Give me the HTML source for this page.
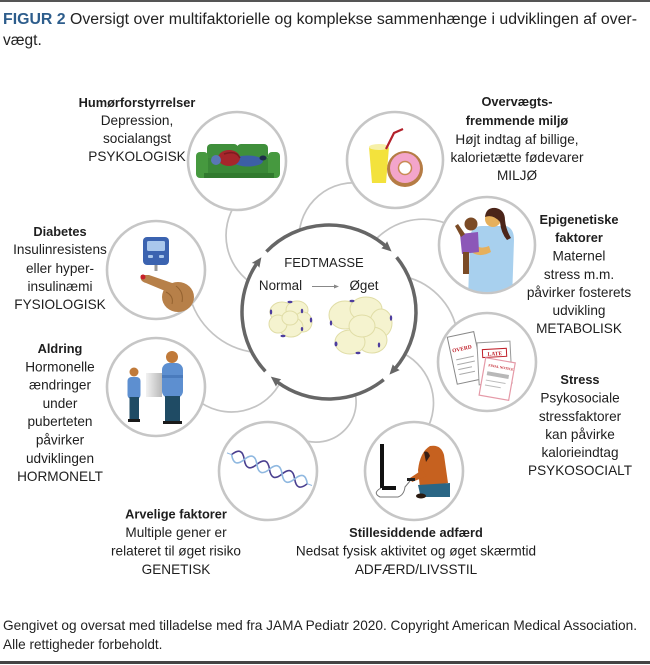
<!DOCTYPE html>
<html><head><meta charset="utf-8"><style>
html,body{margin:0;padding:0;background:#fff;}
svg{display:block;font-family:"Liberation Sans",Arial,Helvetica,sans-serif;}
.l{font-size:13.6px;fill:#1e1e1e;text-anchor:middle;}
.b{font-size:12.8px;font-weight:bold;fill:#1e1e1e;text-anchor:middle;}
</style></head><body>
<svg width="650" height="665" viewBox="0 0 650 665" xmlns="http://www.w3.org/2000/svg">
<defs>
<linearGradient id="gg" x1="0" y1="0" x2="1" y2="0"><stop offset="0" stop-color="#f2f2f2"/><stop offset="1" stop-color="#b8b8b8"/></linearGradient>
<pattern id="rung" width="3" height="20" patternUnits="userSpaceOnUse"><rect x="0" y="0" width="1.2" height="20" fill="#6a5fa8"/></pattern>
<clipPath id="cm"><circle cx="487" cy="245" r="47"/></clipPath>
<clipPath id="cs"><circle cx="414" cy="471" r="48"/></clipPath>
</defs>
<rect width="650" height="665" fill="#fff"/>
<rect x="0" y="0" width="650" height="2" fill="#555"/>
<rect x="0" y="661" width="650" height="3" fill="#444"/>

<text x="3" y="24" font-size="15.5" fill="#222" textLength="634" lengthAdjust="spacingAndGlyphs"><tspan font-weight="bold" fill="#2d5d8c">FIGUR 2</tspan> Oversigt over multifaktorielle og komplekse sammenhænge i udviklingen af over-</text>
<text x="3" y="45" font-size="15.5" fill="#222">vægt.</text>

<!-- connector arcs -->
<g fill="none" stroke="#c4c4c4" stroke-width="1.7">
<path d="M236.4,202.6 A57.4,57.4 0 0 0 254.7,285.2"/>
<path d="M363.5,183.6 A55,55 0 0 0 299,237.8"/>
<path d="M450.8,225.3 A65.6,65.6 0 0 0 369.4,247.2"/>
<path d="M188.9,292.5 A76.1,76.1 0 0 0 256.8,352.5"/>
<path d="M196.2,399.1 A55,55 0 0 0 281.4,380.2"/>
<path d="M352.3,385.1 A40,40 0 0 1 299.1,438.3"/>
<path d="M398.5,351.1 A56,56 0 0 1 426,431"/>
<path d="M399.1,275.6 A68.5,68.5 0 0 1 457.4,333.9"/>
</g>

<!-- satellite circles -->
<g fill="#fff" stroke="#c6c6c6" stroke-width="2.6">
<circle cx="237" cy="161" r="49"/>
<circle cx="395" cy="160" r="48"/>
<circle cx="156" cy="270" r="49"/>
<circle cx="156" cy="387" r="49"/>
<circle cx="487" cy="245" r="48"/>
<circle cx="487" cy="362" r="49"/>
<circle cx="268" cy="471" r="49"/>
<circle cx="414" cy="471" r="49"/>
</g>

<!-- couch -->
<g>
<rect x="207" y="144" width="31" height="17" rx="4" fill="#3f8f3b"/>
<rect x="237" y="144" width="31" height="17" rx="4" fill="#3f8f3b"/>
<rect x="203" y="158" width="71" height="20" fill="#3a8837"/>
<rect x="196" y="152" width="12" height="26" rx="4" fill="#46993f"/>
<rect x="268" y="152" width="12" height="26" rx="4" fill="#46993f"/>
<rect x="204" y="173" width="70" height="5" fill="#317a2e"/>
<ellipse cx="248" cy="161" rx="15" ry="5.5" fill="#3c5fa6"/>
<ellipse cx="229" cy="158" rx="11" ry="8" fill="#a6262b"/>
<circle cx="216" cy="160" r="5" fill="#5a77b5"/>
<ellipse cx="263" cy="158" rx="3.5" ry="2.5" fill="#1e2d4a"/>
<path d="M224,154 Q236,150 240,158" stroke="#7d1c20" stroke-width="1.5" fill="none"/>
</g>

<!-- drink & donut -->
<g>
<path d="M369,147 L389,147 L386,183 L372,183 Z" fill="#f3e23c"/>
<ellipse cx="379" cy="147" rx="10" ry="3" fill="#f6f0a8"/>
<polyline points="386,149 394,133 403,129" stroke="#b3212b" stroke-width="2.2" fill="none"/>
<circle cx="405" cy="169" r="18" fill="#b57c45"/>
<circle cx="405" cy="168" r="15" fill="#f3a5cb"/>
<circle cx="405" cy="168" r="6.5" fill="#fff" stroke="#c98a55" stroke-width="1.5"/>
</g>

<!-- diabetes -->
<g>
<rect x="143" y="237" width="26" height="28" rx="4" fill="#3b63b0"/>
<rect x="147" y="241" width="18" height="10" rx="1.5" fill="#a9c7ec"/>
<rect x="148" y="255" width="5" height="3" rx="1" fill="#a9c7ec"/>
<rect x="159" y="255" width="5" height="3" rx="1" fill="#a9c7ec"/>
<rect x="154.5" y="265" width="3" height="6" fill="#999"/>
<path d="M141,275 Q139,281 146,283 L170,293 L175,284 L149,275 Z" fill="#b78049"/>
<ellipse cx="178" cy="297" rx="16" ry="15" fill="#b78049"/>
<path d="M166,292 Q174,296 172,304 M176,286 Q184,292 182,302" stroke="#93612f" stroke-width="1" fill="none"/>
<circle cx="143" cy="277" r="2.5" fill="#c8202a"/>
</g>

<!-- aldring -->
<g>
<circle cx="134" cy="372" r="4.5" fill="#c07a3a"/>
<rect x="127.5" y="377" width="13" height="22" rx="4" fill="#5d8fd0"/>
<rect x="129.5" y="397" width="9.5" height="23" fill="#1f4b64"/>
<rect x="128" y="419" width="12" height="3" fill="#1a1a1a"/>
<rect x="146" y="373" width="16" height="24" fill="url(#gg)"/>
<circle cx="172" cy="357" r="6" fill="#c07a3a"/>
<rect x="162" y="363" width="21" height="35" rx="7" fill="#5d8fd0"/>
<rect x="162" y="375" width="21" height="3" fill="#4a7bbd"/>
<rect x="165" y="396" width="15" height="26" fill="#1f4b64"/>
<rect x="163" y="421" width="19" height="3" fill="#1a1a1a"/>
</g>

<!-- mother -->
<g clip-path="url(#cm)">
<path d="M470,236 Q472,226 482,226 L506,226 Q514,228 514,240 L512,300 L468,300 Z" fill="#a8d0ee"/>
<circle cx="493" cy="219" r="8" fill="#e6b05c"/>
<path d="M485,217 Q486,207 496,208 Q505,210 505,220 Q506,230 511,238 L507,240 Q501,233 500,222 Q493,214 485,217 Z" fill="#4b2519"/>
<path d="M469,250 Q478,259 491,252 L489,246 Q480,250 474,244 Z" fill="#e6b05c"/>
<path d="M460,234 L478,232 L479,252 L462,254 Z" fill="#8c57b8"/>
<circle cx="471" cy="224" r="6.5" fill="#7b4b26"/>
<path d="M461,237 L455,226 L458,224 L465,234 Z" fill="#7b4b26"/>
<rect x="463" y="252" width="6" height="22" fill="#7b4b26"/>
</g>

<!-- stress papers -->
<g font-family="Liberation Serif,serif" font-weight="bold">
<g transform="rotate(-12 465 358)">
<rect x="452" y="334" width="27" height="48" fill="#fff" stroke="#888" stroke-width="1"/>
<text x="454" y="350" font-size="5.5" fill="#c0202a">OVERD</text>
<path d="M456,358 H474 M456,363 H474 M456,368 H470 M456,373 H472" stroke="#aaa" stroke-width="1"/>
</g>
<g transform="rotate(-3 494 362)">
<rect x="478" y="342" width="33" height="42" fill="#fff" stroke="#999" stroke-width="1"/>
<rect x="483" y="349" width="24" height="8" fill="#fff" stroke="#c0202a" stroke-width="1"/>
<text x="488" y="355.5" font-size="5.5" fill="#c0202a">LATE</text>
</g>
<g transform="rotate(10 497 380)">
<rect x="482" y="360" width="30" height="38" fill="#fff" stroke="#e59aa8" stroke-width="1.2"/>
<text x="486" y="368" font-size="3.5" fill="#c0202a">FINAL NOTICE</text>
<rect x="486" y="373" width="22" height="4" fill="#b8b8b8"/>
<path d="M486,382 H506 M486,387 H502" stroke="#bbb" stroke-width="1"/>
</g>
</g>

<!-- DNA -->
<g transform="translate(269 469) rotate(21)">
<path d="M-40,0 Q-33.25,-12 -26.5,0 T-13,0 T0.5,0 T14,0 T27.5,0 T41,0 Q34.25,12 27.5,0 Q20.75,-12 14,0 Q7.25,12 0.5,0 Q-6.25,-12 -13,0 Q-19.75,12 -26.5,0 Q-33.25,-12 -40,0 Z" fill="url(#rung)" opacity="0.85"/>
<path d="M-40,0 Q-33.25,-12 -26.5,0 T-13,0 T0.5,0 T14,0 T27.5,0 T41,0" stroke="#4a3f8f" stroke-width="1.6" fill="none"/>
<path d="M-40,0 Q-33.25,12 -26.5,0 T-13,0 T0.5,0 T14,0 T27.5,0 T41,0" stroke="#8fb8e0" stroke-width="1.6" fill="none"/>
<path d="M-45,0 H-40 M41,0 H46" stroke="#8fb8e0" stroke-width="1"/>
</g>

<!-- sedentary -->
<g clip-path="url(#cs)">
<rect x="380" y="444" width="4" height="44" fill="#111"/>
<rect x="382" y="486" width="14" height="4" fill="#111"/>
<path d="M381,488 Q372,493 380,497 L398,497 Q404,495 405,487 L410,481" stroke="#777" fill="none" stroke-width="1"/>
<path d="M430,446 Q441,444 444,455 L448,483 L420,488 L418,470 Q420,452 430,446 Z" fill="#c6611f"/>
<path d="M424,452 Q428,450 430,456 L426,462 Z" fill="#3a1f14"/>
<path d="M422,470 L410,478 L412,482 L427,476 Z" fill="#c6611f"/>
<path d="M418,485 L450,483 L450,497 L425,497 L420,494 Z" fill="#2a6685"/>
<ellipse cx="421" cy="496" rx="5" ry="2.5" fill="#2a1a10"/>
<rect x="407" y="478" width="8" height="3" fill="#222"/>
</g>

<!-- center circle -->
<circle cx="329" cy="312" r="87" fill="#fff"/>
<g fill="none" stroke="#666" stroke-width="3.5">
<path d="M266.42,251.56 A87,87 0 0 1 385.50,245.85"/>
<path d="M396.61,257.25 A87,87 0 0 1 395.25,368.38"/>
<path d="M383.75,379.61 A87,87 0 0 1 277.25,381.94"/>
<path d="M265.37,371.33 A87,87 0 0 1 256.45,263.98"/>
</g>
<g fill="#666">
<polygon points="261.39,257.25 251.75,262.98 256.5,264 259.35,267.80"/>
<polygon points="391.58,251.56 381.36,248.26 384.5,245.5 387.08,241.30"/>
<polygon points="389.44,374.58 392.74,364.36 395.5,367.5 399.70,370.08"/>
<polygon points="270.79,376.65 275.99,386.58 278,382 281.21,379.24"/>
</g>

<text x="324" y="267" font-size="13" fill="#222" text-anchor="middle">FEDTMASSE</text>
<text x="280.5" y="290" font-size="13.4" fill="#222" text-anchor="middle">Normal</text>
<text x="364" y="290" font-size="13.4" fill="#222" text-anchor="middle">Øget</text>
<line x1="312" y1="286.5" x2="335" y2="286.5" stroke="#888" stroke-width="1"/>
<polygon points="339,286.5 334,284.5 334,288.5" fill="#888"/>

<!-- fat cells small -->
<g fill="#f5f3cf" stroke="#e0dda6" stroke-width="1">
<ellipse cx="282" cy="312" rx="12" ry="10"/>
<ellipse cx="297" cy="310" rx="11" ry="9"/>
<ellipse cx="303" cy="322" rx="9" ry="10"/>
<ellipse cx="291" cy="327" rx="12" ry="10"/>
<ellipse cx="278" cy="324" rx="9" ry="9"/>
<ellipse cx="290" cy="318" rx="8" ry="7"/>
</g>
<g fill="#f5f3cf" stroke="#e0dda6" stroke-width="1">
<ellipse cx="345" cy="315" rx="16" ry="14"/>
<ellipse cx="366" cy="309" rx="16" ry="12"/>
<ellipse cx="381" cy="323" rx="11" ry="14"/>
<ellipse cx="372" cy="340" rx="15" ry="13"/>
<ellipse cx="350" cy="342" rx="15" ry="12"/>
<ellipse cx="362" cy="326" rx="13" ry="11"/>
</g>
<g fill="#4d3d9e">
<ellipse cx="271" cy="312" rx="1.2" ry="2.5"/>
<ellipse cx="290" cy="302" rx="2.5" ry="1.2"/>
<ellipse cx="302" cy="311" rx="1.2" ry="2.3"/>
<ellipse cx="311" cy="320" rx="1.2" ry="2.5"/>
<ellipse cx="302" cy="329" rx="1.2" ry="2"/>
<ellipse cx="283" cy="336" rx="2.5" ry="1.2"/>
<ellipse cx="352" cy="301" rx="2.5" ry="1.2"/>
<ellipse cx="331" cy="323" rx="1.2" ry="2.5"/>
<ellipse cx="391" cy="318" rx="1.2" ry="2.8"/>
<ellipse cx="336" cy="344" rx="1.5" ry="2.5"/>
<ellipse cx="358" cy="353" rx="2.5" ry="1.2"/>
<ellipse cx="379" cy="345" rx="1.2" ry="2.5"/>
</g>

<!-- labels -->
<text class="b" x="137" y="107">Humørforstyrrelser</text>
<text class="l" x="137" y="125">Depression,</text>
<text class="l" x="137" y="143">socialangst</text>
<text class="l" x="137" y="161">PSYKOLOGISK</text>

<text class="b" x="517" y="106">Overvægts-</text>
<text class="b" x="517" y="125">fremmende miljø</text>
<text class="l" x="517" y="144">Højt indtag af billige,</text>
<text class="l" x="517" y="162">kalorietætte fødevarer</text>
<text class="l" x="517" y="180">MILJØ</text>

<text class="b" x="60" y="236">Diabetes</text>
<text class="l" x="60" y="254">Insulinresistens</text>
<text class="l" x="60" y="273">eller hyper-</text>
<text class="l" x="60" y="291">insulinæmi</text>
<text class="l" x="60" y="309">FYSIOLOGISK</text>

<text class="b" x="579" y="224">Epigenetiske</text>
<text class="b" x="579" y="242">faktorer</text>
<text class="l" x="579" y="260.5">Maternel</text>
<text class="l" x="579" y="279">stress m.m.</text>
<text class="l" x="579" y="297">påvirker fosterets</text>
<text class="l" x="579" y="315">udvikling</text>
<text class="l" x="579" y="333">METABOLISK</text>

<text class="b" x="60" y="353">Aldring</text>
<text class="l" x="60" y="371.3">Hormonelle</text>
<text class="l" x="60" y="389.6">ændringer</text>
<text class="l" x="60" y="407.9">under</text>
<text class="l" x="60" y="426.2">puberteten</text>
<text class="l" x="60" y="444.5">påvirker</text>
<text class="l" x="60" y="462.8">udviklingen</text>
<text class="l" x="60" y="481.1">HORMONELT</text>

<text class="b" x="580" y="384">Stress</text>
<text class="l" x="580" y="402.5">Psykosociale</text>
<text class="l" x="580" y="421">stressfaktorer</text>
<text class="l" x="580" y="439">kan påvirke</text>
<text class="l" x="580" y="457">kalorieindtag</text>
<text class="l" x="580" y="475">PSYKOSOCIALT</text>

<text class="b" x="176" y="518.5">Arvelige faktorer</text>
<text class="l" x="176" y="537">Multiple gener er</text>
<text class="l" x="176" y="555.5">relateret til øget risiko</text>
<text class="l" x="176" y="574">GENETISK</text>

<text class="b" x="416" y="537">Stillesiddende adfærd</text>
<text class="l" x="416" y="555.5">Nedsat fysisk aktivitet og øget skærmtid</text>
<text class="l" x="416" y="574">ADFÆRD/LIVSSTIL</text>

<text x="3" y="630" font-size="13.6" fill="#222" textLength="634" lengthAdjust="spacingAndGlyphs">Gengivet og oversat med tilladelse med fra JAMA Pediatr 2020. Copyright American Medical Association.</text>
<text x="3" y="649" font-size="13.6" fill="#222">Alle rettigheder forbeholdt.</text>
</svg>
</body></html>
